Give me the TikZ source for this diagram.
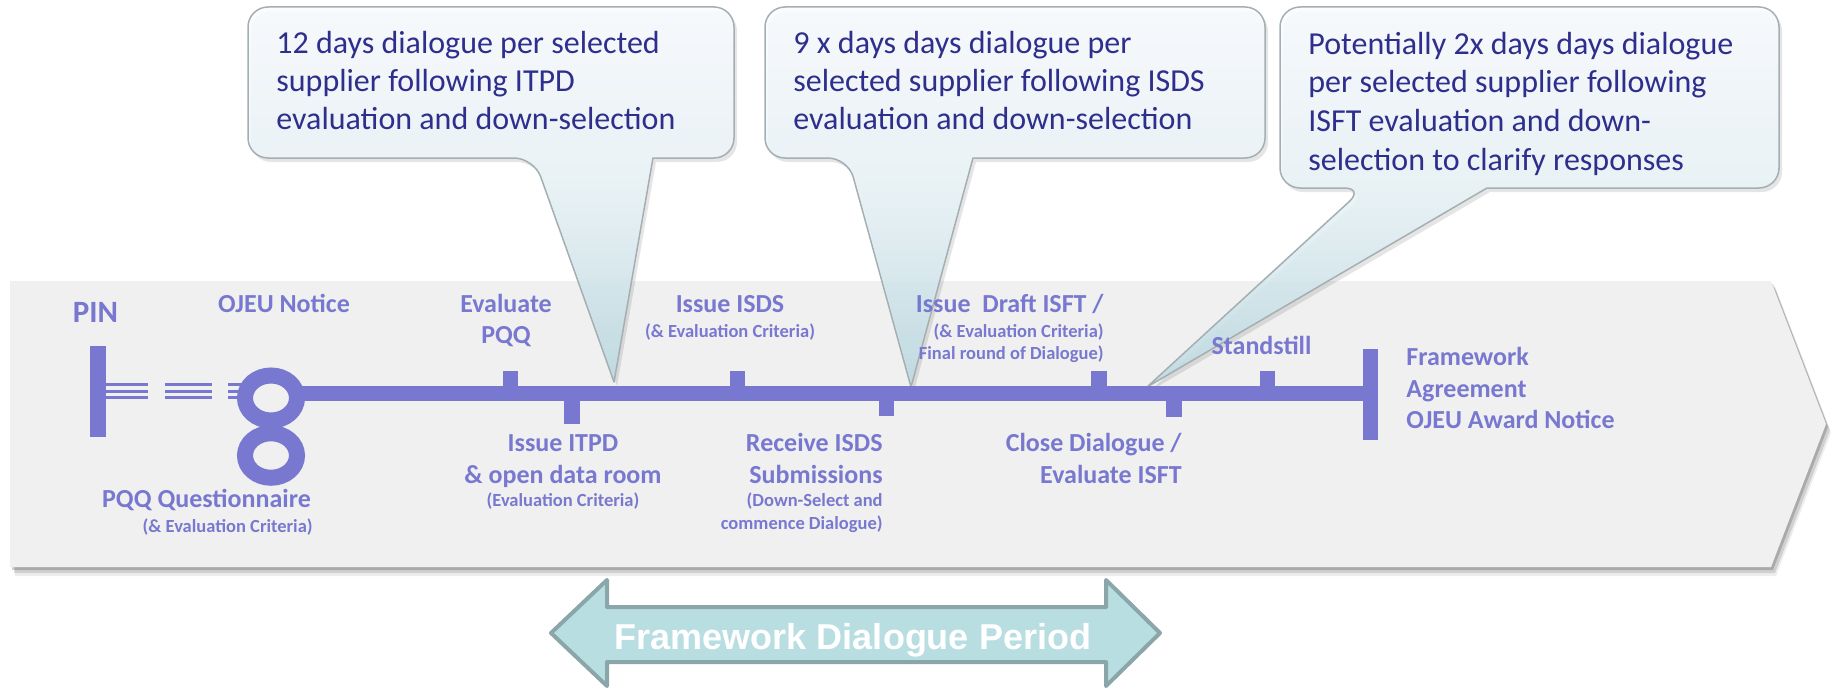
\documentclass[tikz,border=0pt]{standalone}
\usepackage{fontspec}
\setmainfont{Carlito}
\newfontfamily\arrowfont{Liberation Sans}
\definecolor{tl}{RGB}{120,120,208}
\definecolor{panel}{RGB}{240,240,240}
\definecolor{calltext}{RGB}{46,46,140}
\definecolor{callborder}{RGB}{165,175,178}
\definecolor{callTop}{RGB}{250,252,255}
\definecolor{callMid}{RGB}{232,243,247}
\definecolor{callBot}{RGB}{188,218,226}
\definecolor{arrowfill}{RGB}{184,222,226}
\definecolor{arrowborder}{RGB}{138,166,168}
\begin{document}
\begin{tikzpicture}[x=0.5pt,y=-0.5pt,
  lbl/.style={text=tl,font=\bfseries\fontsize{13}{16}\selectfont,inner sep=0pt},
  pinlbl/.style={text=tl,font=\bfseries\fontsize{15.5}{18}\selectfont,inner sep=0pt},
  sml/.style={text=tl,font=\bfseries\fontsize{9.25}{11}\selectfont,inner sep=0pt},
  ctext/.style={text=calltext,font=\fontsize{16}{19}\selectfont,inner sep=0pt,anchor=base west},
  callout/.style={draw=callborder,line width=0.75pt,top color=callTop,bottom color=callBot,middle color=callMid,fill opacity=0.88,line join=round},
  callshadow/.style={fill=black,opacity=0.10},
  bar/.style={fill=tl},
  panelpath/.style={insert path={(10,281) -- (1771,281) -- (1826,424) -- (1771,567) -- (10,567) -- cycle}},
  calloutA/.style={insert path={(491,7) [rounded corners=10pt] -- (248,7) -- (248,158) -- (534,158) [sharp corners] -- (614,382) -- (653,158) [rounded corners=10pt] -- (734,158) -- (734,7) -- cycle}},
  calloutB/.style={insert path={(1015,7) [rounded corners=10pt] -- (765,7) -- (765,158) -- (848,158) [sharp corners] -- (911,387) -- (973,158) [rounded corners=10pt] -- (1265,158) -- (1265,7) -- cycle}},
  calloutC/.style={insert path={(1530,7) [rounded corners=10pt] -- (1280,7) -- (1280,188) -- (1364,188) [sharp corners] -- (1147,387) -- (1487,188) [rounded corners=10pt] -- (1779,188) -- (1779,7) -- cycle}}]

\useasboundingbox (0,0) rectangle (1835,690);

% panel with shadow
\fill[black,opacity=0.07,shift={(5,9)},panelpath];
\fill[black,opacity=0.12,shift={(4,6)},panelpath];
\fill[black,opacity=0.18,shift={(2,3)},panelpath];
\fill[panel,panelpath];

% callouts
\fill[callshadow,shift={(3,4)},calloutA];
\fill[callshadow,shift={(3,4)},calloutB];
\fill[callshadow,shift={(3,4)},calloutC];
\draw[callout,calloutA];
\draw[callout,calloutB];
\draw[callout,calloutC];

\node[ctext] (c1a) at (276,54) {12 days dialogue per selected};
\node[ctext] (c1b) at (276,92) {supplier following ITPD};
\node[ctext] (c1c) at (276,130) {evaluation and down-selection};
\node[ctext] (c2a) at (793,54) {9 x days days dialogue per};
\node[ctext] (c2b) at (793,92) {selected supplier following ISDS};
\node[ctext] (c2c) at (793,130) {evaluation and down-selection};
\node[ctext] (c3a) at (1308,55) {Potentially 2x days days dialogue};
\node[ctext] (c3b) at (1308,93) {per selected supplier following};
\node[ctext] (c3c) at (1308,132) {ISFT evaluation and down-};
\node[ctext] (c3d) at (1308,170) {selection to clarify responses};

% timeline
\foreach \yy in {384.7,391.3,397.7} {
  \draw[tl,line width=1.35pt] (106,\yy) -- (148,\yy);
  \draw[tl,line width=1.35pt] (165,\yy) -- (212,\yy);
  \draw[tl,line width=1.35pt] (228,\yy) -- (245,\yy);
}
\fill[bar] (90,346) rectangle (106,437);
\fill[bar] (300,385.5) rectangle (1378,400.5);
\draw[tl,line width=8pt] (271,398) ellipse [x radius=26,y radius=22.5];
\draw[tl,line width=8pt] (271,455.5) ellipse [x radius=26,y radius=22.25];
\fill[bar] (503,371) rectangle (518,390);
\fill[bar] (564,395) rectangle (580,424);
\fill[bar] (730,371) rectangle (745,390);
\fill[bar] (879,395) rectangle (894,416);
\fill[bar] (1091,371) rectangle (1107,390);
\fill[bar] (1166,395) rectangle (1182,417);
\fill[bar] (1260,371) rectangle (1275,390);
\fill[bar] (1363,349) rectangle (1378,440);

% labels
\node[pinlbl,anchor=base] (pin) at (95.5,322) {PIN};
\node[lbl,anchor=base] (ojeu) at (284,312) {OJEU Notice};
\node[lbl,anchor=base] (evpqq1) at (506,312) {Evaluate};
\node[lbl,anchor=base] (evpqq2) at (506,343) {PQQ};
\node[lbl,anchor=base] (itpd1) at (563,451) {Issue ITPD};
\node[lbl,anchor=base] (itpd2) at (563,483) {\& open data room};
\node[sml,anchor=base] (itpd3) at (563,506) {(Evaluation Criteria)};
\node[lbl,anchor=base] (isds1) at (730,312) {Issue ISDS};
\node[sml,anchor=base] (isds2) at (730,337) {(\& Evaluation Criteria)};
\node[lbl,anchor=base east] (rec1) at (883,451) {Receive ISDS};
\node[lbl,anchor=base east] (rec2) at (883,483) {Submissions};
\node[sml,anchor=base east] (rec3) at (883,506) {(Down-Select and};
\node[sml,anchor=base east] (rec4) at (883,529) {commence Dialogue)};
\node[lbl,anchor=base east] (isft1) at (1104,312) {Issue\ \ Draft ISFT /};
\node[sml,anchor=base east] (isft2) at (1104,337) {(\& Evaluation Criteria)};
\node[sml,anchor=base east] (isft3) at (1104,359) {Final round of Dialogue)};
\node[lbl,anchor=base] (stand) at (1261.5,354) {Standstill};
\node[lbl,anchor=base east] (close1) at (1182,451) {Close Dialogue /};
\node[lbl,anchor=base east] (close2) at (1182,483) {Evaluate ISFT};
\node[lbl,anchor=base west] (fw1) at (1406,365) {Framework};
\node[lbl,anchor=base west] (fw2) at (1406,397) {Agreement};
\node[lbl,anchor=base west] (fw3) at (1406,428) {OJEU Award Notice};
\node[lbl,anchor=base] (pqq1) at (206.5,507) {PQQ Questionnaire};
\node[sml,anchor=base east] (pqq2) at (313,532) {(\& Evaluation Criteria)};

% period arrow
\draw[fill=arrowfill,draw=arrowborder,line width=2pt,line join=round]
  (551,633) -- (607,580) -- (607,607) -- (1106,607) -- (1106,580) -- (1160,633)
  -- (1106,686) -- (1106,662) -- (607,662) -- (607,686) -- cycle;
\node[font=\arrowfont\bfseries\fontsize{18}{20}\selectfont,text=white,anchor=base,inner sep=0pt] (period) at (853,649) {Framework Dialogue Period};
\end{tikzpicture}
\end{document}
